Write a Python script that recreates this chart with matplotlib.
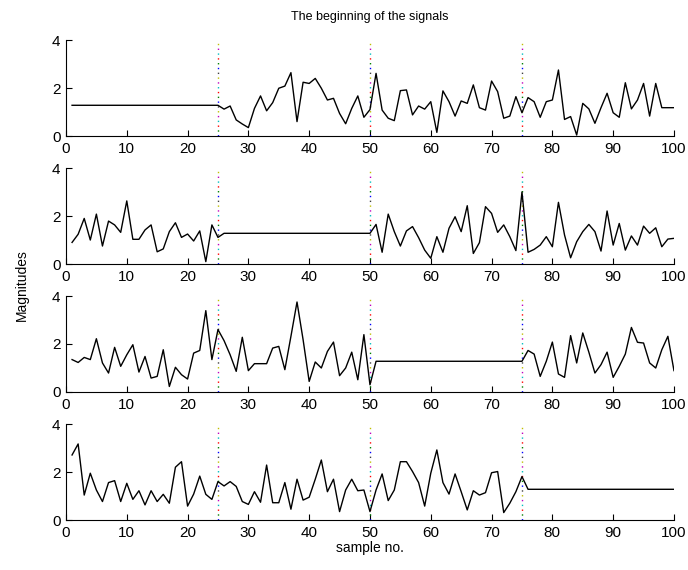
# Four signals with their segment boundaries marked

import numpy as np
import matplotlib.pyplot as plt

plt.rcParams['font.family'] = ['Liberation Sans', 'DejaVu Sans']
plt.rcParams['lines.scale_dashes'] = False

# Sample numbers
samples = np.arange(1, 101)

# Signal values
signal_1 = [1.28, 1.28, 1.28, 1.28, 1.28, 1.28, 1.28, 1.28, 1.28, 1.28,
            1.28, 1.28, 1.28, 1.28, 1.28, 1.28, 1.28, 1.28, 1.28, 1.28,
            1.28, 1.28, 1.28, 1.28, 1.28, 1.12, 1.25, 0.67, 0.50, 0.35,
            1.15, 1.67, 1.05, 1.39, 1.99, 2.08, 2.64, 0.60, 2.24, 2.19,
            2.40, 1.99, 1.50, 1.57, 0.94, 0.51, 1.15, 1.67, 0.78, 1.10,
            2.61, 1.08, 0.74, 0.64, 1.89, 1.92, 0.88, 1.25, 1.12, 1.43,
            0.15, 1.88, 1.43, 0.83, 1.46, 1.36, 2.13, 1.18, 1.08, 2.29,
            1.85, 0.74, 0.83, 1.64, 0.97, 1.60, 1.43, 0.78, 1.43, 1.50,
            2.75, 0.69, 0.81, 0.04, 1.36, 1.13, 0.53, 1.18, 1.78, 0.97,
            0.78, 2.22, 1.13, 1.50, 2.19, 0.83, 2.19, 1.18, 1.18, 1.18]

signal_2 = [0.90, 1.24, 1.90, 1.00, 2.08, 0.75, 1.79, 1.63, 1.32, 2.63,
            1.03, 1.03, 1.42, 1.63, 0.51, 0.63, 1.35, 1.72, 1.11, 1.25,
            0.96, 1.38, 0.10, 1.63, 1.11, 1.28, 1.28, 1.28, 1.28, 1.28,
            1.28, 1.28, 1.28, 1.28, 1.28, 1.28, 1.28, 1.28, 1.28, 1.28,
            1.28, 1.28, 1.28, 1.28, 1.28, 1.28, 1.28, 1.28, 1.28, 1.28,
            1.65, 0.49, 2.08, 1.35, 0.75, 1.38, 1.56, 1.10, 0.58, 0.24,
            1.14, 0.49, 1.49, 1.97, 1.35, 2.43, 0.44, 0.89, 2.39, 2.11,
            1.32, 1.63, 1.14, 0.56, 3.00, 0.49, 0.61, 0.79, 1.14, 0.72,
            2.57, 1.21, 0.26, 0.93, 1.35, 1.65, 1.35, 0.54, 2.21, 0.79,
            1.69, 0.58, 1.17, 0.79, 1.58, 1.28, 1.51, 0.72, 1.04, 1.07]

signal_3 = [1.35, 1.23, 1.44, 1.35, 2.22, 1.21, 0.79, 1.86, 1.07, 1.55,
            1.97, 0.83, 1.48, 0.58, 0.65, 1.76, 0.23, 1.03, 0.72, 0.54,
            1.62, 1.73, 3.39, 1.35, 2.60, 2.14, 1.55, 0.86, 2.28, 0.89,
            1.18, 1.18, 1.18, 1.83, 1.90, 0.93, 2.32, 3.75, 2.18, 0.44,
            1.25, 1.00, 1.69, 2.08, 0.68, 1.00, 1.66, 0.51, 2.39, 0.30,
            1.28, 1.28, 1.28, 1.28, 1.28, 1.28, 1.28, 1.28, 1.28, 1.28,
            1.28, 1.28, 1.28, 1.28, 1.28, 1.28, 1.28, 1.28, 1.28, 1.28,
            1.28, 1.28, 1.28, 1.28, 1.28, 1.73, 1.58, 0.65, 1.28, 2.08,
            0.75, 0.61, 2.35, 1.21, 2.46, 1.66, 0.79, 1.14, 1.66, 0.61,
            1.07, 1.58, 2.69, 2.07, 2.04, 1.21, 1.00, 1.76, 2.32, 0.89]

signal_4 = [2.71, 3.17, 1.04, 1.95, 1.25, 0.77, 1.56, 1.64, 0.77, 1.53,
            0.86, 1.22, 0.63, 1.22, 0.77, 1.07, 0.70, 2.20, 2.43, 0.58,
            1.08, 1.83, 1.07, 0.86, 1.60, 1.42, 1.60, 1.40, 0.77, 0.65,
            1.18, 0.74, 2.29, 0.72, 0.72, 1.56, 0.45, 1.70, 0.83, 0.95,
            1.70, 2.50, 1.18, 1.70, 0.35, 1.25, 1.70, 1.22, 1.25, 0.35,
            1.25, 1.92, 0.81, 1.25, 2.43, 2.43, 2.02, 1.56, 0.58, 1.95,
            2.92, 1.56, 1.08, 1.92, 1.18, 0.42, 1.22, 1.04, 1.14, 1.97,
            2.02, 0.31, 0.70, 1.18, 1.81, 1.28, 1.28, 1.28, 1.28, 1.28,
            1.28, 1.28, 1.28, 1.28, 1.28, 1.28, 1.28, 1.28, 1.28, 1.28,
            1.28, 1.28, 1.28, 1.28, 1.28, 1.28, 1.28, 1.28, 1.28, 1.28]

signals = [signal_1, signal_2, signal_3, signal_4]
split_points = [25, 50, 75]

# colours of the stacked dotted markers, bottom dot first
marker_colors = ['#0000ff', '#008000', '#ff0000', '#00bfbf',
                 '#bf00bf', '#bfbf00', '#404040']

fig = plt.figure(figsize=(6.88, 5.7), dpi=100)
bottoms = [0.7614, 0.5368, 0.3123, 0.0877]

dot = 3.46
period = dot * len(marker_colors)

for sig, b in zip(signals, bottoms):
    ax = fig.add_axes([0.0959, b, 0.8837, 0.1684])
    for k, c in enumerate(marker_colors):
        for xp in split_points:
            ax.plot([xp, xp], [0, 4], color=c, lw=1.0,
                    linestyle=((period - k * dot) % period, (1.0, period - 1.0)))
    ax.plot(samples, sig, color='black', lw=1.0)
    ax.set_xlim(0, 100)
    ax.set_ylim(0, 4)
    ax.set_xticks(range(0, 101, 10))
    ax.set_yticks([0, 2, 4])
    ax.spines['top'].set_visible(False)
    ax.spines['right'].set_visible(False)
    for s in ['left', 'bottom']:
        ax.spines[s].set_linewidth(0.8)
    ax.tick_params(direction='in', length=4, width=0.8, labelsize=11,
                   top=False, right=False, pad=4)

fig.text(370 / 688, 1 - 17 / 570, 'The beginning of the signals',
         ha='center', va='center', fontsize=9)
fig.text(370 / 688, 1 - 548 / 570, 'sample no.',
         ha='center', va='center', fontsize=10)
fig.text(22 / 688, 1 - 285 / 570, 'Magnitudes', rotation=90,
         ha='center', va='center', fontsize=10)

plt.savefig('out.png', dpi=100)
